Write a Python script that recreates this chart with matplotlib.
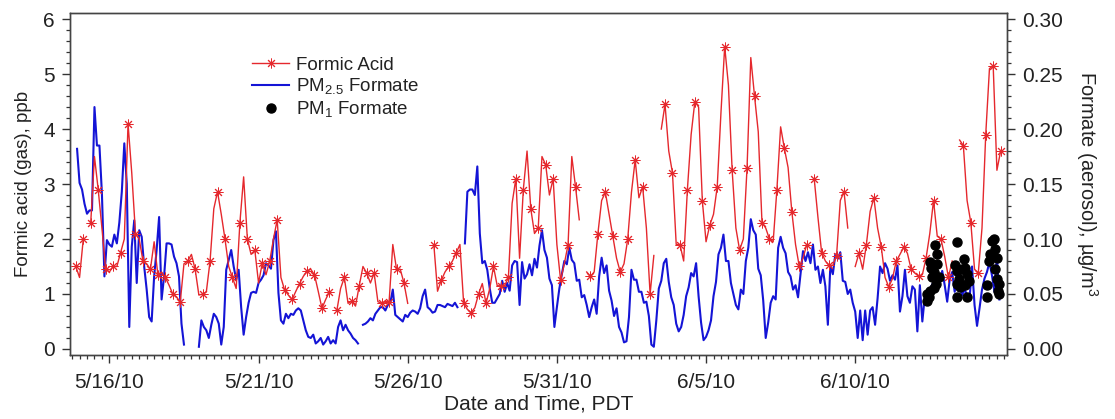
import numpy as np
import pandas as pd
import matplotlib
matplotlib.use("Agg")
import matplotlib.pyplot as plt
import matplotlib.dates as mdates
from matplotlib.ticker import MultipleLocator, FixedLocator, FuncFormatter

nan = np.nan

# gas phase formic acid, ppb, 3-hourly from 5/14/10 21:00 (one row per day, 00h..21h)
acid_times = pd.date_range("2010-05-14 21:00", "2010-06-14 21:00", freq="3h")
formic_acid = [
    1.5,
    1.3, 2.0, nan, 2.3, 3.5, 2.9, 2.2, 1.45,
    1.4, 1.5, 1.5, 1.75, 2.0, 4.1, 3.2, 2.1,
    2.0, 1.6, 1.55, 1.45, 1.95, 1.35, 1.4, 1.3,
    1.16, 1.0, 0.95, 0.85, 1.55, 1.6, 1.72, 1.45,
    0.98, 1.0, 1.04, 1.6, 2.55, 2.86, 2.45, 2.0,
    1.5, 1.3, 1.1, 2.3, 3.13, 2.0, 1.72, 1.8,
    1.2, 1.56, 1.35, 1.6, 2.0, 2.35, 1.3, 1.07,
    0.98, 0.9, 1.05, 1.19, 1.32, 1.42, 1.45, 1.35,
    1.05, 0.74, 0.9, 1.04, nan, 0.7, 1.1, 1.3,
    0.83, 0.87, 0.78, 1.15, 1.5, 1.38, 1.2, 1.38,
    0.86, 0.83, 0.87, 0.85, 1.9, 1.45, 1.45, 1.2,
    0.83, nan, nan, nan, nan, nan, nan, 1.9,
    1.05, 1.25, 1.4, 1.5, 1.6, 1.75, 1.9, 0.83,
    0.72, 0.66, 0.75, 1.0, 1.19, 0.83, 1.1, 1.5,
    1.15, 1.15, 1.15, 1.3, 2.65, 3.1, 1.65, 2.9,
    3.6, 2.55, 2.1, 2.2, 3.5, 3.35, 2.8, 3.1,
    1.9, 1.25, 1.55, 1.9, 3.5, 2.95, 2.35, nan,
    1.4, 1.32, 1.4, 2.1, 2.7, 2.85, 2.45, 2.05,
    1.65, 1.4, 1.55, 2.0, 2.85, 3.44, 2.75, 2.95,
    2.2, 1.0, 1.7, nan, 4.0, 4.45, 3.6, 3.2,
    1.9, 1.9, 1.6, 2.9, 3.9, 4.5, 4.4, 2.7,
    1.95, 2.25, 2.45, 2.95, 4.3, 5.5, 4.8, 3.25,
    2.2, 1.8, 2.0, 3.3, 5.3, 4.6, 3.95, 2.3,
    2.2, 2.0, 1.95, 2.9, 4.04, 3.65, 3.3, 2.5,
    1.9, 1.5, 1.65, 1.9, nan, 3.1, 2.4, 1.75,
    1.6, 1.52, 1.52, 1.7, 2.7, 2.86, 2.2, nan,
    1.5, 1.74, 1.45, 1.9, 2.5, 2.75, 2.2, 1.85,
    1.3, 1.13, 1.28, 1.6, 1.72, 1.85, 1.74, 1.45,
    1.38, 1.32, 1.35, 1.65, 2.1, 2.7, 2.05, 2.0,
    1.68, 1.3, 1.6, nan, 3.8, 3.7, 2.7, 2.3,
    1.45, 1.38, 2.2, 3.9, 5.1, 5.15, 3.25, 3.6,
]

# PM2.5 formate, ug/m3, 2-hourly from 5/14/10 22:00 (one row per day, 00h..22h)
pm25_times = pd.date_range("2010-05-14 22:00", "2010-06-14 22:00", freq="2h")
pm25_formate = [
    0.182,
    0.151, 0.145, 0.132, 0.123, 0.126, 0.126, 0.220, 0.185, 0.185, 0.141, 0.066, 0.099,
    0.095, 0.093, 0.104, 0.096, 0.115, 0.143, 0.187, 0.150, 0.020, 0.093, 0.117, 0.060,
    0.108, 0.102, 0.075, 0.054, 0.029, 0.025, 0.066, 0.090, 0.120, 0.045, 0.066, 0.096,
    0.096, 0.095, 0.084, 0.078, 0.066, 0.023, 0.004, nan, nan, nan, nan, nan,
    0.002, 0.026, 0.020, 0.017, 0.010, 0.022, 0.032, 0.029, 0.023, 0.004, 0.020, 0.072,
    0.081, 0.090, 0.075, 0.063, 0.072, 0.038, 0.013, 0.029, 0.042, 0.051, 0.052, 0.051,
    0.060, 0.063, 0.067, 0.078, 0.076, 0.073, 0.099, 0.107, 0.051, 0.026, 0.023, 0.032,
    0.028, 0.032, 0.031, 0.035, 0.037, 0.035, 0.026, 0.017, 0.011, 0.010, 0.013, 0.005,
    0.007, 0.010, 0.004, 0.007, 0.011, 0.005, 0.008, 0.005, 0.020, 0.026, 0.017, 0.022,
    0.017, 0.014, 0.010, 0.008, 0.005, nan, 0.022, 0.023, 0.025, 0.028, 0.026, 0.032,
    0.035, 0.038, 0.038, 0.035, 0.040, 0.042, 0.054, 0.031, 0.029, 0.027, 0.025, 0.031,
    0.029, 0.033, 0.035, 0.034, 0.032, 0.037, 0.048, 0.054, 0.038, 0.036, 0.033, 0.034,
    0.040, 0.040, 0.039, 0.038, 0.041, 0.040, 0.039, 0.042, 0.038, nan, nan, 0.096,
    0.143, 0.145, 0.145, 0.140, 0.166, 0.105, 0.078, 0.080, 0.072, 0.055, 0.042, 0.042,
    0.046, 0.050, 0.062, 0.052, 0.060, 0.053, 0.076, 0.080, 0.079, 0.040, 0.079, 0.064,
    0.068, 0.077, 0.067, 0.082, 0.074, 0.094, 0.108, 0.090, 0.083, 0.064, 0.058, 0.020,
    0.038, 0.055, 0.068, 0.080, 0.077, 0.092, 0.081, 0.078, 0.062, 0.063, 0.047, 0.049,
    0.040, 0.029, 0.038, 0.045, 0.032, 0.066, 0.083, 0.069, 0.076, 0.053, 0.044, 0.030,
    0.037, 0.020, 0.015, 0.006, 0.007, 0.029, 0.072, 0.063, 0.063, 0.052, 0.052, 0.042,
    0.043, 0.030, 0.004, 0.002, 0.026, 0.055, 0.062, 0.078, 0.082, 0.061, 0.047, 0.040,
    0.023, 0.016, 0.020, 0.031, 0.048, 0.056, 0.069, 0.066, 0.078, 0.048, 0.024, 0.008,
    0.011, 0.017, 0.026, 0.048, 0.061, 0.086, 0.092, 0.104, 0.080, 0.080, 0.060, 0.050,
    0.040, 0.036, 0.054, 0.050, 0.080, 0.092, 0.118, 0.108, 0.104, 0.073, 0.067, 0.044,
    0.010, 0.024, 0.042, 0.048, 0.045, 0.092, 0.102, 0.092, 0.087, 0.070, 0.066, 0.054,
    0.058, 0.047, 0.068, 0.089, 0.080, 0.088, 0.078, 0.095, 0.072, 0.075, 0.060, 0.072,
    0.057, 0.022, 0.076, 0.068, 0.086, 0.082, 0.088, 0.062, 0.061, 0.050, 0.054, 0.042,
    0.034, 0.010, 0.035, 0.008, 0.035, 0.013, 0.035, 0.038, 0.022, 0.046, 0.075, 0.069,
    0.078, 0.073, 0.062, 0.067, 0.063, 0.076, 0.034, 0.048, 0.072, 0.048, 0.042, 0.057,
    0.054, 0.016, 0.058, 0.025, 0.048, 0.045, 0.052, 0.059, 0.055, 0.053, 0.061, 0.071,
    0.058, 0.043, 0.063, 0.070, 0.052, 0.064, 0.057, 0.049, 0.054, 0.049, 0.046, 0.075,
    0.040, 0.021, 0.037, 0.054, 0.064, 0.070, 0.079, 0.067, 0.052, 0.085, 0.045, nan,
]

# PM1 formate samples: days after 5/16/10 00:00, ug/m3
pm1_days = [27.40, 27.46, 27.40, 27.52, 27.55, 27.57, 27.63, 27.68, 27.74, 27.74,
            27.80, 27.72, 27.65, 27.52,
            28.41, 28.35, 28.41, 28.47, 28.41, 28.52, 28.41, 28.63, 28.69, 28.75,
            28.80, 28.69, 28.75, 28.58,
            29.42, 29.42, 29.47, 29.53, 29.58, 29.64, 29.70, 29.75, 29.70, 29.75,
            29.81, 29.77, 29.81]
pm1_formate = [0.044, 0.047, 0.050, 0.079, 0.074, 0.065, 0.070, 0.095, 0.086, 0.077,
               0.065, 0.059, 0.055, 0.053,
               0.097, 0.076, 0.071, 0.064, 0.059, 0.056, 0.047, 0.082, 0.074, 0.068,
               0.062, 0.058, 0.047, 0.073,
               0.058, 0.047, 0.080, 0.086, 0.098, 0.100, 0.091, 0.083, 0.073, 0.064,
               0.059, 0.053, 0.050]

major_dates = pd.date_range("2010-05-16", periods=6, freq="5D")
pm1_times = pd.Timestamp("2010-05-16") + pd.to_timedelta(pm1_days, unit="D")

plt.rcParams["font.family"] = ["Liberation Sans", "DejaVu Sans"]
plt.rcParams["mathtext.fontset"] = "custom"
plt.rcParams["mathtext.rm"] = "Liberation Sans"
plt.rcParams["mathtext.it"] = "Liberation Sans:italic"
plt.rcParams["text.color"] = "#222222"
plt.rcParams["axes.labelcolor"] = "#222222"

red = "#e5282d"
blue = "#1414d6"

fig = plt.figure(figsize=(11.15, 4.19), dpi=100)
ax = fig.add_axes([0.0628, 0.1527, 0.8404, 0.8162])
ax2 = ax.twinx()
ax3 = ax.twinx()

# blue at the bottom, red over it, PM1 dots on top
ax2.set_zorder(1)
ax.set_zorder(2)
ax3.set_zorder(3)
ax.patch.set_visible(False)
ax3.patch.set_visible(False)

l_blue, = ax2.plot(pm25_times, pm25_formate, color=blue, lw=1.5)
l_red, = ax.plot(acid_times, formic_acid, color=red, lw=1.0, marker=(8, 2, 0),
                 markersize=7, markeredgewidth=0.7, markevery=2)
l_dots, = ax3.plot(pm1_times, pm1_formate, "o", color="black", markersize=6.5)

xmin = pd.Timestamp("2010-05-14 16:20")
xmax = pd.Timestamp("2010-06-15 02:10")
ax.set_xlim(xmin, xmax)
ax.set_ylim(-0.11, 6.11)
ax2.set_ylim(-0.0055, 0.3055)
ax3.set_ylim(-0.0055, 0.3055)
ax3.axis("off")

ax.xaxis.set_major_locator(FixedLocator(mdates.date2num(major_dates)))
ax.xaxis.set_minor_locator(mdates.HourLocator(byhour=[0, 6, 12, 18]))
ax.xaxis.set_major_formatter(FuncFormatter(
    lambda x, pos: "{0.month}/{0.day}/{0:%y}".format(mdates.num2date(x))))

ax.yaxis.set_major_locator(MultipleLocator(1))
ax.yaxis.set_minor_locator(MultipleLocator(0.2))
ax2.yaxis.set_major_locator(MultipleLocator(0.05))
ax2.yaxis.set_minor_locator(MultipleLocator(0.01))
ax2.yaxis.set_major_formatter(FuncFormatter(lambda v, pos: f"{v:.2f}"))

for a in (ax, ax2):
    a.tick_params(which="major", direction="out", length=6, width=1,
                  labelsize=15, colors="#333333", labelcolor="#222222")
    a.tick_params(which="minor", direction="out", length=3, width=0.9,
                  colors="#333333")
    for s in a.spines.values():
        s.set_color("#444444")
        s.set_linewidth(1.0)
ax.tick_params(axis="x", which="major", pad=7)
ax.tick_params(axis="y", which="major", pad=5)
ax2.tick_params(axis="y", which="major", pad=5)

ax.set_xlabel("Date and Time, PDT", fontsize=15, labelpad=2)
ax.set_ylabel("Formic acid (gas), ppb", fontsize=13.5, labelpad=8)
ax2.set_ylabel("Formate (aerosol), µg/m$^3$", fontsize=14.5, rotation=270,
               labelpad=26)

ax3.legend([l_red, l_blue, l_dots],
           ["Formic Acid", "PM$_{2.5}$ Formate", "PM$_1$ Formate"],
           loc="upper left", bbox_to_anchor=(0.186, 0.895), frameon=False,
           fontsize=13.5, handlelength=2.0, handletextpad=0.35, labelspacing=0.15,
           borderaxespad=0)

fig.savefig("out.png", dpi=100)
